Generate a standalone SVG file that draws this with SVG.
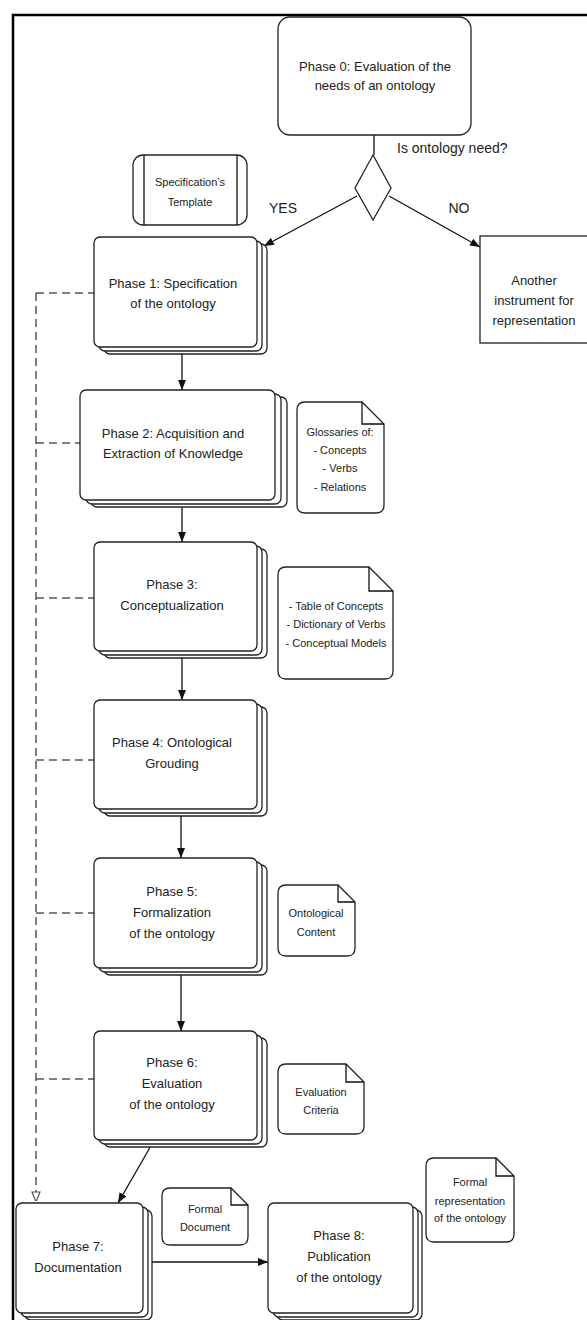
<svg xmlns="http://www.w3.org/2000/svg" width="587" height="1320" viewBox="0 0 587 1320">
<defs>
<style>
.t{font-family:"Liberation Sans",Arial,sans-serif;font-size:13px;fill:#222;text-anchor:middle}
.s{font-family:"Liberation Sans",Arial,sans-serif;font-size:11px;fill:#222;text-anchor:middle}
.lb{font-family:"Liberation Sans",Arial,sans-serif;font-size:14px;fill:#222}
.box{fill:#fff;stroke:#222;stroke-width:1.3}
.ln{fill:none;stroke:#111;stroke-width:1.3}
.dash{fill:none;stroke:#555;stroke-width:1.5;stroke-dasharray:8 5}
</style>
<marker id="arr" markerWidth="10" markerHeight="8" refX="10" refY="4" orient="auto" markerUnits="userSpaceOnUse">
<path d="M0,0 L10,4 L0,8 z" fill="#111"/>
</marker>
<marker id="open" markerWidth="10" markerHeight="10" refX="11" refY="5" orient="auto" markerUnits="userSpaceOnUse">
<path d="M1,1 L11,5 L1,9 z" fill="#fff" stroke="#555" stroke-width="1.2"/>
</marker>
</defs>
<rect width="587" height="1320" fill="#fff"/>
<rect x="13" y="15" width="620" height="1400" fill="none" stroke="#000" stroke-width="2.5"/>

<g id="connectors">
<line class="ln" x1="374" y1="135" x2="374" y2="155"/>
<line class="ln" x1="357" y1="196" x2="264" y2="246" marker-end="url(#arr)"/>
<line class="ln" x1="389" y1="196" x2="480" y2="247" marker-end="url(#arr)"/>
<line class="ln" x1="182" y1="354" x2="182" y2="390" marker-end="url(#arr)"/>
<line class="ln" x1="182" y1="507" x2="182" y2="542" marker-end="url(#arr)"/>
<line class="ln" x1="182" y1="658" x2="182" y2="700" marker-end="url(#arr)"/>
<line class="ln" x1="181" y1="816" x2="181" y2="858" marker-end="url(#arr)"/>
<line class="ln" x1="181" y1="975" x2="181" y2="1031" marker-end="url(#arr)"/>
<line class="ln" x1="152" y1="1144" x2="118" y2="1203" marker-end="url(#arr)"/>
<line class="ln" x1="143" y1="1262" x2="268" y2="1262" marker-end="url(#arr)"/>
<line class="dash" x1="36" y1="293" x2="36" y2="1202" marker-end="url(#open)"/>
<line class="dash" x1="36" y1="293" x2="94" y2="293"/>
<line class="dash" x1="36" y1="443" x2="80" y2="443"/>
<line class="dash" x1="36" y1="598" x2="94" y2="598"/>
<line class="dash" x1="36" y1="760" x2="94" y2="760"/>
<line class="dash" x1="36" y1="913" x2="94" y2="913"/>
<line class="dash" x1="36" y1="1079" x2="94" y2="1079"/>
<text class="lb" x="397" y="153">Is ontology need?</text>
<text class="lb" x="283" y="213" text-anchor="middle">YES</text>
<text class="lb" x="459" y="213" text-anchor="middle">NO</text>
</g>

<g id="phase0">
<rect class="box" x="278" y="17" width="193" height="118" rx="12"/>
<text class="t" x="375" y="71">Phase 0: Evaluation of the</text>
<text class="t" x="375" y="90">needs of an ontology</text>
</g>

<g id="decision">
<polygon class="box" points="373,155 391,188 373,220 355,188"/>
</g>

<g id="another">
<rect class="box" x="480" y="236" width="130" height="107"/>
<text class="t" x="534" y="285">Another</text>
<text class="t" x="534" y="305">instrument for</text>
<text class="t" x="534" y="325">representation</text>
</g>

<g id="template">
<rect class="box" x="133" y="155" width="114" height="70" rx="10"/>
<line class="ln" x1="144" y1="155" x2="144" y2="225"/>
<line class="ln" x1="237" y1="155" x2="237" y2="225"/>
<text class="s" x="190" y="186">Specification’s</text>
<text class="s" x="190" y="206">Template</text>
</g>

<g id="phase1">
<rect class="box" x="104" y="244" width="163" height="110" rx="6"/>
<rect class="box" x="99" y="241" width="163" height="110" rx="6"/>
<rect class="box" x="94" y="237" width="163" height="110" rx="6"/>
<text class="t" x="173" y="288">Phase 1: Specification</text>
<text class="t" x="173" y="308">of the ontology</text>
</g>

<g id="phase2">
<rect class="box" x="91" y="397" width="196" height="110" rx="6"/>
<rect class="box" x="86" y="394" width="195" height="110" rx="6"/>
<rect class="box" x="80" y="390" width="195" height="110" rx="6"/>
<text class="t" x="173" y="438">Phase 2: Acquisition and</text>
<text class="t" x="173" y="458">Extraction of Knowledge</text>
</g>

<g id="phase3">
<rect class="box" x="104" y="549" width="163" height="109" rx="6"/>
<rect class="box" x="99" y="546" width="163" height="109" rx="6"/>
<rect class="box" x="94" y="542" width="163" height="109" rx="6"/>
<text class="t" x="172" y="589">Phase 3:</text>
<text class="t" x="172" y="610">Conceptualization</text>
</g>

<g id="phase4">
<rect class="box" x="104" y="707" width="163" height="109" rx="6"/>
<rect class="box" x="99" y="704" width="163" height="109" rx="6"/>
<rect class="box" x="94" y="700" width="163" height="109" rx="6"/>
<text class="t" x="172" y="747">Phase 4: Ontological</text>
<text class="t" x="172" y="768">Grouding</text>
</g>

<g id="phase5">
<rect class="box" x="104" y="865" width="163" height="110" rx="6"/>
<rect class="box" x="99" y="862" width="163" height="110" rx="6"/>
<rect class="box" x="94" y="858" width="163" height="110" rx="6"/>
<text class="t" x="172" y="896">Phase 5:</text>
<text class="t" x="172" y="917">Formalization</text>
<text class="t" x="172" y="938">of the ontology</text>
</g>

<g id="phase6">
<rect class="box" x="104" y="1038" width="163" height="109" rx="6"/>
<rect class="box" x="99" y="1035" width="163" height="109" rx="6"/>
<rect class="box" x="94" y="1031" width="163" height="109" rx="6"/>
<text class="t" x="172" y="1067">Phase 6:</text>
<text class="t" x="172" y="1088">Evaluation</text>
<text class="t" x="172" y="1109">of the ontology</text>
</g>

<g id="phase7">
<rect class="box" x="25" y="1210" width="127" height="110" rx="6"/>
<rect class="box" x="21" y="1207" width="127" height="110" rx="6"/>
<rect class="box" x="16" y="1203" width="127" height="110" rx="6"/>
<text class="t" x="78" y="1251">Phase 7:</text>
<text class="t" x="78" y="1272">Documentation</text>
</g>

<g id="phase8">
<rect class="box" x="277" y="1210" width="145" height="110" rx="6"/>
<rect class="box" x="273" y="1207" width="145" height="110" rx="6"/>
<rect class="box" x="268" y="1203" width="145" height="110" rx="6"/>
<text class="t" x="339" y="1240">Phase 8:</text>
<text class="t" x="339" y="1261">Publication</text>
<text class="t" x="339" y="1282">of the ontology</text>
</g>

<g id="note-glossaries">
<path class="box" d="M297,410 Q297,402 305,402 L362,402 L384,424 L384,505 Q384,513 376,513 L305,513 Q297,513 297,505 Z"/>
<path class="ln" d="M362,402 L362,424 L384,424"/>
<text class="s" x="340" y="436">Glossaries of:</text>
<text class="s" x="340" y="454">- Concepts</text>
<text class="s" x="340" y="472">- Verbs</text>
<text class="s" x="340" y="491">- Relations</text>
</g>

<g id="note-table">
<path class="box" d="M278,575 Q278,567 286,567 L369,567 L393,591 L393,671 Q393,679 385,679 L286,679 Q278,679 278,671 Z"/>
<path class="ln" d="M369,567 L369,591 L393,591"/>
<text class="s" x="336" y="610">- Table of Concepts</text>
<text class="s" x="336" y="628">- Dictionary of Verbs</text>
<text class="s" x="336" y="647">- Conceptual Models</text>
</g>

<g id="note-content">
<path class="box" d="M278,893 Q278,885 286,885 L338,885 L355,902 L355,948 Q355,956 347,956 L286,956 Q278,956 278,948 Z"/>
<path class="ln" d="M338,885 L338,902 L355,902"/>
<text class="s" x="316" y="917">Ontological</text>
<text class="s" x="316" y="936">Content</text>
</g>

<g id="note-criteria">
<path class="box" d="M278,1072 Q278,1064 286,1064 L346,1064 L364,1082 L364,1126 Q364,1134 356,1134 L286,1134 Q278,1134 278,1126 Z"/>
<path class="ln" d="M346,1064 L346,1082 L364,1082"/>
<text class="s" x="321" y="1096">Evaluation</text>
<text class="s" x="321" y="1114">Criteria</text>
</g>

<g id="note-document">
<path class="box" d="M162,1196 Q162,1188 170,1188 L231,1188 L248,1205 L248,1237 Q248,1245 240,1245 L170,1245 Q162,1245 162,1237 Z"/>
<path class="ln" d="M231,1188 L231,1205 L248,1205"/>
<text class="s" x="205" y="1213">Formal</text>
<text class="s" x="205" y="1231">Document</text>
</g>

<g id="note-representation">
<path class="box" d="M426,1166 Q426,1158 434,1158 L496,1158 L514,1176 L514,1234 Q514,1242 506,1242 L434,1242 Q426,1242 426,1234 Z"/>
<path class="ln" d="M496,1158 L496,1176 L514,1176"/>
<text class="s" x="470" y="1186">Formal</text>
<text class="s" x="470" y="1205">representation</text>
<text class="s" x="470" y="1222">of the ontology</text>
</g>
</svg>
